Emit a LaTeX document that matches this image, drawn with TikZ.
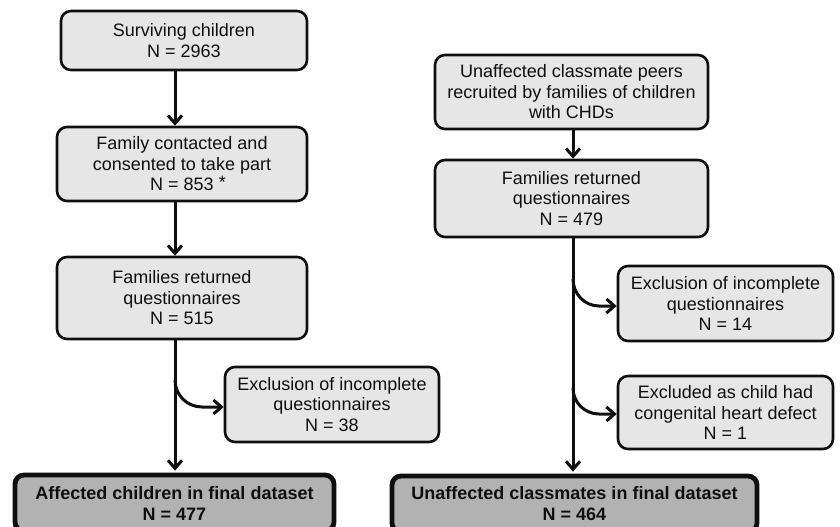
\documentclass[tikz,border=0pt]{standalone}
\usepackage{fontspec}
\setmainfont{Liberation Sans}
\usetikzlibrary{arrows.meta}
\definecolor{boxfill}{RGB}{230,230,230}
\definecolor{finalfill}{RGB}{178,178,178}
\definecolor{ink}{RGB}{15,15,15}
\begin{document}
\begin{tikzpicture}[x=1pt,y=-1pt,
  box/.style={draw=ink, line width=2.6pt, fill=boxfill, rounded corners=10pt, align=center,
    font=\fontsize{18}{20.5}\selectfont, text=ink, inner sep=0pt},
  finalbox/.style={box, line width=4.8pt, fill=finalfill, rounded corners=9pt,
    font=\bfseries\fontsize{18}{21}\selectfont},
  arr/.style={draw=ink, line width=3pt, -{Straight Barb[length=8pt,width=14pt,line width=3pt]}},
]
\useasboundingbox (0,0) rectangle (840,527);
\clip (0,0) rectangle (840,527);
\fill[white] (0,0) rectangle (840,527);

% left column
\node[box, minimum width=246pt, minimum height=59pt] (a1) at (184,40.5) {Surviving children\\N = 2963};
\node[box, minimum width=250pt, minimum height=74pt] (a2) at (182,164) {Family contacted and\\consented to take part\\N = 853\rlap{ \raisebox{2pt}{*}}};
\node[box, minimum width=250pt, minimum height=82pt] (a3) at (182,298) {Families returned\\questionnaires\\N = 515};
\node[box, minimum width=214pt, minimum height=75pt] (a4) at (332,404.5) {Exclusion of incomplete\\questionnaires\\N = 38};
\node[finalbox, minimum width=319pt, minimum height=56pt] (a5) at (174.5,503) {Affected children in final dataset\\N = 477};

% right column
\node[box, minimum width=273pt, minimum height=74pt] (b1) at (571.5,92) {Unaffected classmate peers\\recruited by families of children\\with CHDs};
\node[box, minimum width=273pt, minimum height=77pt] (b2) at (571.5,198.5) {Families returned\\questionnaires\\N = 479};
\node[box, minimum width=215pt, minimum height=75pt] (b3) at (725.5,303.5) {Exclusion of incomplete\\questionnaires\\N = 14};
\node[box, minimum width=215pt, minimum height=73pt] (b4) at (725.5,412.5) {Excluded as child had\\congenital heart defect\\N = 1};
\node[finalbox, minimum width=365pt, minimum height=56pt] (b5) at (574.5,504) {Unaffected classmates in final dataset\\N = 464};

% trunk coordinates
\coordinate (lx) at (175,0);
\coordinate (rx) at (573,0);
\coordinate (lb1) at (175,380);
\coordinate (lb1e) at (202,407);
\coordinate (rb1) at (573,279);
\coordinate (rb1e) at (599,306);
\coordinate (rb2) at (573,388);
\coordinate (rb2e) at (599,414);

% left arrows
\draw[arr] (a1.south -| lx) -- (a2.north -| lx);
\draw[arr] (a2.south -| lx) -- (a3.north -| lx);
\draw[arr, shorten >=2pt] (a3.south -| lx) -- (a5.north -| lx);
\draw[arr] (lb1) to[out=-90,in=180] (lb1e) -- (lb1e -| a4.west);

% right arrows
\draw[arr] (b1.south -| rx) -- (b2.north -| rx);
\draw[arr, shorten >=2pt] (b2.south -| rx) -- (b5.north -| rx);
\draw[arr] (rb1) to[out=-90,in=180] (rb1e) -- (rb1e -| b3.west);
\draw[arr] (rb2) to[out=-90,in=180] (rb2e) -- (rb2e -| b4.west);
\end{tikzpicture}
\end{document}
